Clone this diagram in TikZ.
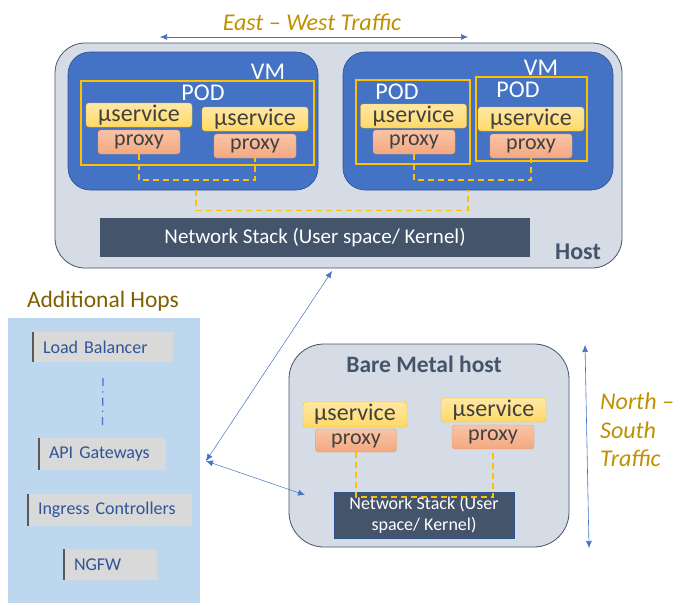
\documentclass[tikz,border=0pt]{standalone}
\usepackage{fontspec}
\setmainfont{Carlito}
\usetikzlibrary{arrows.meta,positioning,calc}
\definecolor{slate}{HTML}{44546A}
\definecolor{hostbg}{HTML}{D6DCE5}
\definecolor{vmblue}{HTML}{4472C4}
\definecolor{vmline}{HTML}{2F528F}
\definecolor{amber}{HTML}{FFC000}
\definecolor{svctop}{HTML}{FFE8A6}
\definecolor{svcbot}{HTML}{FFD966}
\definecolor{pxtop}{HTML}{F8C4A6}
\definecolor{pxbot}{HTML}{F4A880}
\definecolor{pxline}{HTML}{EE9A6A}
\definecolor{ink}{HTML}{404040}
\definecolor{gold}{HTML}{BF9000}
\definecolor{olive}{HTML}{7F6000}
\definecolor{hopbg}{HTML}{BDD7EE}
\definecolor{hopbox}{HTML}{D9D9D9}
\definecolor{hoptext}{HTML}{2F5597}

\begin{document}
\begin{tikzpicture}[x=1pt,y=-1pt,
  host/.style={draw=slate,fill=hostbg,rounded corners=30pt,line width=0.8pt},
  vm/.style={draw=vmline,fill=vmblue,rounded corners=22pt,line width=0.6pt},
  pod/.style={draw=amber,line width=1.4pt},
  svc/.style={draw=amber,top color=svctop,bottom color=svcbot,rounded corners=3pt,
    minimum width=106pt,minimum height=24pt,inner sep=0pt,text=ink,
    font=\fontsize{24}{24}\selectfont},
  proxy/.style={draw=pxline,top color=pxtop,bottom color=pxbot,rounded corners=3pt,
    minimum width=82pt,minimum height=24pt,inner sep=0pt,text=ink,
    font=\fontsize{22}{22}\selectfont},
  stack/.style={fill=slate,text=white,inner sep=0pt,align=center},
  whitelbl/.style={text=white,font=\fontsize{24}{24}\selectfont,inner sep=0pt},
  link/.style={draw=amber,dash pattern=on 6pt off 4pt,line width=1.6pt},
  hop/.style={fill=hopbox,text=hoptext,inner sep=0pt,align=left,
    font=\fontsize{18}{18}\selectfont},
  hopedge/.style={draw=gray!70!black,line width=2.5pt},
  traffic/.style={{Latex[length=7pt,width=6pt]}-{Latex[length=7pt,width=6pt]},vmblue,line width=0.6pt},
  tlabel/.style={text=gold,font=\fontsize{24}{28.5}\selectfont\itshape,inner sep=0pt}]
\useasboundingbox (0,0) rectangle (690,608);

% host with two VMs
\node[host,minimum width=567pt,minimum height=225pt] (host) at (338.5,155.5) {};
\node[vm,minimum width=250pt,minimum height=138pt] (vm1) at (193,121) {};
\node[vm,minimum width=270pt,minimum height=138pt] (vm2) at (478,121) {};
\node[whitelbl] (vm1lbl) at (268,72) {VM};
\node[whitelbl] (vm2lbl) at (541,68) {VM};

\node[pod,minimum width=233pt,minimum height=84pt] (pod1) at (197.5,123) {};
\node[pod,minimum width=114pt,minimum height=84pt] (pod2) at (413,122) {};
\node[pod,minimum width=111pt,minimum height=84pt] (pod3) at (531.5,119) {};
\node[whitelbl] (pod1lbl) at (203,93) {POD};
\node[whitelbl] (pod2lbl) at (397,92) {POD};
\node[whitelbl] (pod3lbl) at (518,90) {POD};

\node[svc] (s1a) at (139,115) {µservice};
\node[svc] (s1b) at (255,119) {µservice};
\node[proxy] (p1a) at (139,142) {proxy};
\node[proxy] (p1b) at (255,146) {proxy};
\node[svc] (s2a) at (413.5,116) {µservice};
\node[svc] (s2b) at (531,119) {µservice};
\node[proxy] (p2a) at (414,142) {proxy};
\node[proxy] (p2b) at (531,146) {proxy};

\draw[link] (p1a.south) -- ++(0,26) -| (p1b.south);
\draw[link] (p2a.south) -- ++(0,26) -| (p2b.south);
\draw[link] ([xshift=3pt]vm1.south) -- ++(0,20) -| ([xshift=-10pt]vm2.south);

\node[stack,minimum width=430pt,minimum height=39pt,font=\fontsize{21}{22}\selectfont]
  (net1) at (315,237.5) {Network Stack (User space/ Kernel)};
\node[text=slate,font=\fontsize{24}{24}\selectfont\bfseries,inner sep=0pt] (hostlbl) at (578,252) {Host};

% east-west
\node[tlabel] (ew) at (312,22) {East -- West Traffic};
\coordinate (ewL) at (160,37);
\coordinate (ewR) at (468,37);
\draw[traffic] (ewL) -- (ewR);

% additional hops
\node[text=olive,font=\fontsize{23.5}{24}\selectfont,inner sep=0pt] (hops) at (103,301) {Additional Hops};
\fill[hopbg] (8,318) rectangle (200,603);
\node[hop,minimum width=140pt,minimum height=30pt,text width=120pt] (lb) at (103,347) {Load Balancer};
\node[hop,minimum width=127pt,minimum height=32pt,text width=107pt] (api) at (102.5,454) {API Gateways};
\node[hop,minimum width=164pt,minimum height=32pt,text width=144pt] (ingress) at (110,510) {Ingress Controllers};
\node[hop,minimum width=93pt,minimum height=31pt,text width=73pt] (ngfw) at (110.5,564.5) {NGFW};
\foreach \n in {lb,api,ingress,ngfw}
  \draw[hopedge] (\n.north west) -- (\n.south west);
\draw[vmblue,line width=1.2pt,dash pattern=on 8pt off 5pt on 1.5pt off 5pt]
  ([yshift=-16pt]lb.south) -- ([yshift=12pt]api.north);

% bare metal host
\node[host,rounded corners=35pt,minimum width=280pt,minimum height=203pt] (bm) at (429,445.5) {};
\node[text=slate,font=\fontsize{23.5}{24}\selectfont\bfseries,inner sep=0pt] (bmlbl) at (424,364) {Bare Metal host};
\node[svc,minimum width=104pt,minimum height=25pt] (s3a) at (355,414.5) {µservice};
\node[proxy,minimum width=81pt,minimum height=23pt] (p3a) at (356,440.5) {proxy};
\node[svc,minimum width=105pt] (s3b) at (493.5,410) {µservice};
\node[proxy] (p3b) at (493,437) {proxy};
\node[stack,draw=vmline,minimum width=180pt,minimum height=46pt,font=\fontsize{18}{21}\selectfont]
  (net2) at (424,515) {Network Stack (User\\space/ Kernel)};
\draw[link] (p3a.south) -- ++(0,45) -| (p3b.south);

% north-south
\coordinate (nsT) at (585,345);
\coordinate (nsB) at (589,548);
\draw[traffic] (nsT) -- (nsB);
\node[tlabel,align=left,anchor=north west] (ns) at (600,393) {North --\\South\\Traffic};

% links to the hops
\coordinate (hub) at (206,461);
\coordinate (hostin) at (332,271);
\coordinate (bmin) at (305,495);
\draw[traffic,line width=0.5pt] (hub) -- (hostin);
\draw[traffic,line width=0.5pt] (hub) -- (bmin);
\end{tikzpicture}
\end{document}
